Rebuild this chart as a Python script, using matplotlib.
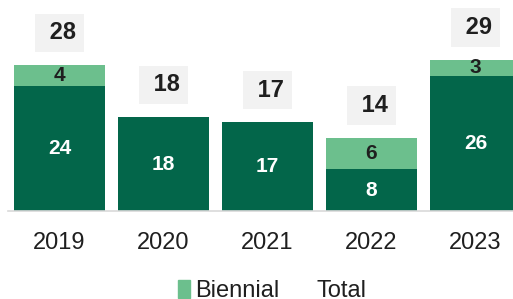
import matplotlib.pyplot as plt
from matplotlib.patches import Patch

plt.rcParams['font.family'] = ['Liberation Sans', 'DejaVu Sans']

# data
years = ['2019', '2020', '2021', '2022', '2023']
annual = [24, 18, 17, 8, 26]
biennial = [4, 0, 0, 6, 3]
totals = [28, 18, 17, 14, 29]

dark = '#03664A'
light = '#6CBF8D'
txt = '#1f1f1f'

fig = plt.figure(figsize=(5.13, 2.99), dpi=100)
ax = fig.add_axes([8 / 513, 88 / 299, 505 / 513, 211 / 299])

x = list(range(len(years)))
w = 0.875
ax.bar(x, annual, width=w, color=dark)
ax.bar(x, biennial, width=w, bottom=annual, color=light)

for i in x:
    ax.text(i, annual[i] / 2, str(annual[i]), ha='center', va='center',
            color='white', fontsize=15, fontweight='bold')
    if biennial[i] > 0:
        ax.text(i, annual[i] + biennial[i] / 2, str(biennial[i]), ha='center',
                va='center', color=txt, fontsize=15, fontweight='bold')
    # total label in a grey box, leading space nudges digits right like the original
    ax.text(i, totals[i] + 6.2, ' ' + str(totals[i]), ha='center',
            va='center', color=txt, fontsize=17, fontweight='bold',
            bbox=dict(boxstyle='square,pad=0.33', fc='#f2f2f2', ec='none'))

ax.set_xlim(-0.495, 4.36)
ax.set_ylim(0, 40.5)
ax.set_xticks(x)
ax.set_xticklabels(years, fontsize=17, color=txt)
ax.tick_params(axis='x', length=0, pad=15)
ax.set_yticks([])
for s in ['top', 'right', 'left']:
    ax.spines[s].set_visible(False)
ax.spines['bottom'].set_color('#d9d9d9')
ax.spines['bottom'].set_linewidth(1.2)

handles = [Patch(color=light, label='Biennial'),
           Patch(color='none', label='Total')]
fig.legend(handles=handles, loc='center', ncol=2, frameon=False,
           bbox_to_anchor=(272 / 513, 1 - 291 / 299), fontsize=17,
           handlelength=0.5, handleheight=0.8, handletextpad=0.25,
           columnspacing=0.8, labelcolor=txt)

fig.savefig('out.png', dpi=100)
